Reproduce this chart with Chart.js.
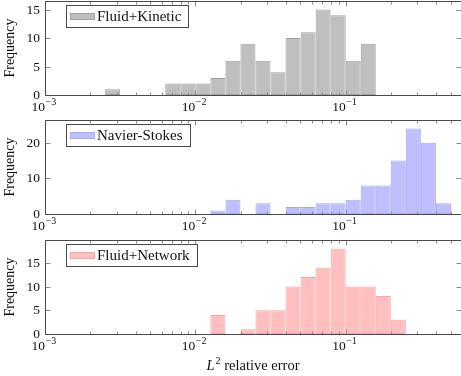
<!DOCTYPE html>
<html><head><meta charset="utf-8">
<script src="https://cdn.jsdelivr.net/npm/chart.js@4.4.1/dist/chart.umd.min.js"></script>
<style>
html,body{margin:0;padding:0;background:#fff;}
#wrap{position:relative;width:461px;height:376px;overflow:hidden;background:#fff;}
canvas{position:absolute;left:0;}
</style></head><body>
<div id="wrap">
<canvas id="c1" width="461" height="120" style="top:0px;width:461px;height:120px"></canvas>
<canvas id="c2" width="461" height="120" style="top:120px;width:461px;height:120px"></canvas>
<canvas id="c3" width="461" height="136" style="top:240px;width:461px;height:136px"></canvas>
</div>
<script>
// ---- data: histogram bins (lower edge as log10 of L2 relative error) and counts ----
const kineticBinLog = [-2.6,-2.5,-2.4,-2.3,-2.2,-2.1,-2.0,-1.9,-1.8,-1.7,-1.6,-1.5,-1.4,-1.3,-1.2,-1.1,-1.0,-0.9];
const kineticCounts = [1,0,0,0,2,2,2,3,6,9,6,4,10,11,15,14,6,9];

const nsBinLog = [-1.9,-1.8,-1.7,-1.6,-1.5,-1.4,-1.3,-1.2,-1.1,-1.0,-0.9,-0.8,-0.7,-0.6,-0.5,-0.4];
const nsCounts = [1,4,0,3,0,2,2,3,3,4,8,8,15,24,20,3];

const networkBinLog = [-1.9,-1.8,-1.7,-1.6,-1.5,-1.4,-1.3,-1.2,-1.1,-1.0,-0.9,-0.8,-0.7];
const networkCounts = [4,0,1,5,5,10,12,14,18,10,10,8,3];

const binWidthLog = 0.1;

const seriesLabels = ['Fluid+Kinetic', 'Navier-Stokes', 'Fluid+Network'];

// ---- axes ----
const xMajorTicks = [1e-3, 1e-2, 1e-1];
const xMajorExp = ['\u22123', '\u22122', '\u22121'];
const xMinorMult = [2,3,4,5,6,7,8,9];
const xMin = 1e-3;
const xMaxLog = -0.233;
const kineticYTicks = [0,5,10,15];
const nsYTicks = [0,10,20];
const networkYTicks = [0,5,10,15];
const yMaxes = [16.5, 26.4, 19.8];
const yTitle = 'Frequency';
const xTitleParts = ['L', '2', ' relative error'];

const SERIF = '"Liberation Serif", "Times New Roman", serif';

const pgfPlugin = {
  id: 'pgf',
  afterDatasetsDraw(chart, args, o) {
    const ctx = chart.ctx, a = chart.chartArea, xs = chart.scales.x, ys = chart.scales.y;
    const L = Math.round(a.left) + 0.5, R = Math.round(a.right) + 0.5;
    const T = Math.round(a.top) + 0.5, B = Math.round(a.bottom) + 0.5;
    ctx.save();
    // tick marks (inward, mirrored)
    ctx.strokeStyle = '#8c8c8c';
    ctx.lineWidth = 1;
    ctx.beginPath();
    const xMax = xs.max;
    xMajorTicks.forEach(dec => {
      [1].concat(xMinorMult).forEach(k => {
        const v = k * dec;
        if (v < xs.min * 0.999 || v > xMax) return;
        const px = Math.round(xs.getPixelForValue(v)) + 0.5;
        const len = k === 1 ? 5 : 3;
        ctx.moveTo(px, B); ctx.lineTo(px, B - len);
        ctx.moveTo(px, T); ctx.lineTo(px, T + len);
      });
    });
    o.yTicks.forEach(v => {
      const py = Math.round(ys.getPixelForValue(v)) + 0.5;
      ctx.moveTo(L, py); ctx.lineTo(L + 5, py);
      ctx.moveTo(R, py); ctx.lineTo(R - 5, py);
    });
    ctx.stroke();
    // frame
    ctx.strokeStyle = '#4a4a4a';
    ctx.strokeRect(L, T, R - L, B - T);

    // tick labels
    ctx.fillStyle = '#111';
    ctx.font = '13.5px ' + SERIF;
    ctx.textAlign = 'right';
    ctx.textBaseline = 'middle';
    o.yTicks.forEach(v => {
      ctx.fillText(String(v), 40, ys.getPixelForValue(v) + 0.5);
    });
    ctx.textBaseline = 'alphabetic';
    xMajorTicks.forEach((v, i) => {
      const px = xs.getPixelForValue(v);
      ctx.font = '13.5px ' + SERIF;
      ctx.textAlign = 'right';
      ctx.fillText('10', px, a.bottom + 15.5);
      ctx.font = '10px ' + SERIF;
      ctx.textAlign = 'left';
      ctx.fillText(xMajorExp[i], px + 0.5, a.bottom + 10);
    });

    // y title
    ctx.save();
    ctx.font = '14px ' + SERIF;
    ctx.textAlign = 'center';
    ctx.translate(13.5, (a.top + a.bottom) / 2);
    ctx.rotate(-Math.PI / 2);
    ctx.fillText(yTitle, 0, 0);
    ctx.restore();

    // x title
    if (o.xTitle) {
      const f1 = 'italic 14.5px ' + SERIF, f2 = '10px ' + SERIF, f3 = '14.5px ' + SERIF;
      ctx.font = f1; const w1 = ctx.measureText(xTitleParts[0]).width;
      ctx.font = f2; const w2 = ctx.measureText(xTitleParts[1]).width;
      ctx.font = f3; const w3 = ctx.measureText(xTitleParts[2]).width;
      let x0 = (a.left + a.right) / 2 - (w1 + w2 + 1 + w3) / 2;
      const by = a.bottom + 35.5;
      ctx.textAlign = 'left';
      ctx.font = f1; ctx.fillText(xTitleParts[0], x0, by);
      ctx.font = f2; ctx.fillText(xTitleParts[1], x0 + w1 + 1, by - 5.5);
      ctx.font = f3; ctx.fillText(xTitleParts[2], x0 + w1 + 1 + w2, by);
    }

    // legend
    const ds = chart.data.datasets[0];
    ctx.font = '15px ' + SERIF;
    const tw = ctx.measureText(ds.label).width;
    const bx = 66.5, by0 = Math.round(a.top) + 4.5, bh = 22;
    const bw = Math.round(31 + tw + 7);
    ctx.fillStyle = '#fff';
    ctx.fillRect(bx, by0, bw, bh);
    ctx.strokeStyle = '#4a4a4a';
    ctx.strokeRect(bx, by0, bw, bh);
    ctx.fillStyle = ds.borderColor;
    ctx.fillRect(70, by0 + 7.5, 25, 7);
    ctx.fillStyle = ds.backgroundColor;
    ctx.fillRect(71, by0 + 8.5, 23, 5);
    ctx.fillStyle = '#111';
    ctx.textAlign = 'left';
    ctx.textBaseline = 'alphabetic';
    ctx.fillText(ds.label, 97, by0 + 15.5);
    ctx.restore();
  }
};

function makeChart(id, canvasH, top, label, bins, counts, yTicks, yMax, fill, border, xTitle) {
  const data = bins.map((e, i) => ({ x: Math.pow(10, e + binWidthLog / 2), y: counts[i] }));
  return new Chart(document.getElementById(id), {
    type: 'bar',
    data: { datasets: [{
      label: label, data: data,
      backgroundColor: fill, borderColor: border,
      borderWidth: 1, borderSkipped: false, inflateAmount: 0,
      barPercentage: 1, categoryPercentage: 1
    }]},
    options: {
      responsive: false, animation: false, devicePixelRatio: 1,
      layout: { padding: { left: 45, right: 0, top: top, bottom: canvasH - top - 94 } },
      plugins: { legend: { display: false }, tooltip: { enabled: false }, pgf: { yTicks: yTicks, xTitle: xTitle } },
      scales: {
        x: { type: 'logarithmic', display: false, offset: false, min: xMin, max: Math.pow(10, xMaxLog),
             afterBuildTicks: s => { s.ticks = xMajorTicks.map(v => ({ value: v })); } },
        y: { type: 'linear', display: false, min: 0, max: yMax,
             afterBuildTicks: s => { s.ticks = yTicks.map(v => ({ value: v })); } }
      }
    },
    plugins: [pgfPlugin]
  });
}

makeChart('c1', 120, 1, seriesLabels[0], kineticBinLog, kineticCounts, kineticYTicks, yMaxes[0], '#bfbfbf', '#a0a0a0', false);
makeChart('c2', 120, 0, seriesLabels[1], nsBinLog, nsCounts, nsYTicks, yMaxes[1], '#bfbfff', '#a8a8f4', false);
makeChart('c3', 136, 0, seriesLabels[2], networkBinLog, networkCounts, networkYTicks, yMaxes[2], '#ffbfbf', '#f2a6a6', true);
</script>
</body></html>
